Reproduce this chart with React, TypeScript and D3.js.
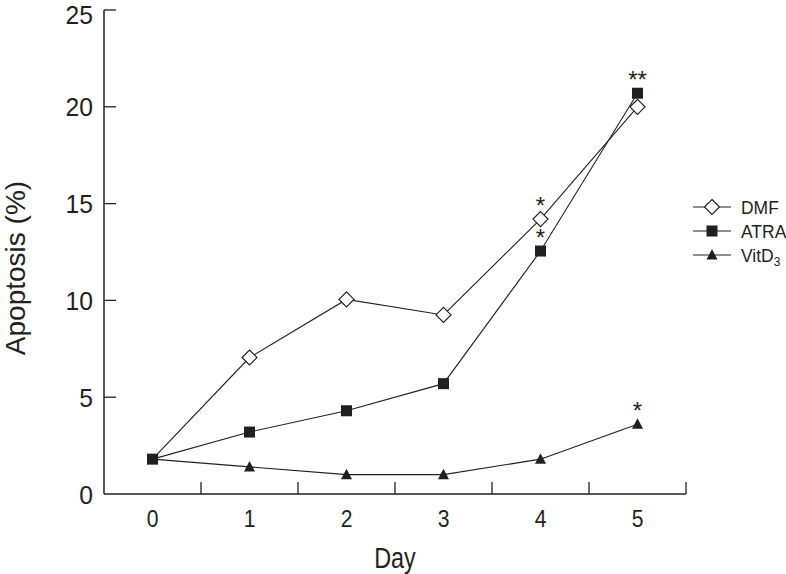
import { useRef, useEffect } from "react";
import * as d3 from "d3";

const days = [0, 1, 2, 3, 4, 5];
const dmf = [1.8, 7.05, 10.05, 9.25, 14.2, 20.0];
const atra = [1.8, 3.2, 4.3, 5.7, 12.55, 20.7];
const vitd3 = [1.8, 1.4, 1.0, 1.0, 1.8, 3.6];
const yTicks = [0, 5, 10, 15, 20, 25];
const stars = [
  { series: "DMF", day: 4, text: "*" },
  { series: "ATRA", day: 4, text: "*" },
  { series: "ATRA", day: 5, text: "**" },
  { series: "VitD3", day: 5, text: "*" },
];

const FONT = "'Liberation Sans', Arial, sans-serif";
const ink = "#231f20";

// condensed-looking text: squeeze horizontally around the anchor point
function ctext(sel: any, x: number, y: number, txt: string, size: number, anchor: string, sx = 0.9) {
  return sel.append("text")
    .attr("transform", `translate(${x},${y}) scale(${sx},1)`)
    .attr("text-anchor", anchor)
    .attr("font-size", size)
    .text(txt);
}

export default function App() {
  const ref = useRef<SVGSVGElement>(null);

  useEffect(() => {
    const svg = d3.select(ref.current);
    svg.selectAll("*").remove();

    const x = d3.scaleLinear().domain([-0.5, 5.5]).range([104, 686]);
    const y = d3.scaleLinear().domain([0, 25]).range([494, 10]);

    const series = [
      { name: "DMF", values: dmf, marker: "diamond" },
      { name: "ATRA", values: atra, marker: "square" },
      { name: "VitD3", values: vitd3, marker: "triangle" },
    ];

    const g = svg.append("g").attr("font-family", FONT).attr("fill", ink);
    g.append("line").attr("x1", x(-0.5)).attr("x2", x(-0.5)).attr("y1", y(25)).attr("y2", y(0))
      .attr("stroke", ink).attr("stroke-width", 1.5);
    g.append("line").attr("x1", x(-0.5)).attr("x2", x(5.5)).attr("y1", y(0)).attr("y2", y(0))
      .attr("stroke", ink).attr("stroke-width", 1.5);

    yTicks.forEach((t) => {
      if (t > 0) {
        g.append("line").attr("x1", x(-0.5)).attr("x2", x(-0.5) + 12).attr("y1", y(t)).attr("y2", y(t))
          .attr("stroke", ink).attr("stroke-width", 1.3);
      }
      // top label nudged down so it stays inside the page
      ctext(g, x(-0.5) - 11, Math.max(y(t) + 9.5, 24), String(t), 26, "end", 0.95);
    });

    d3.range(0, 6).forEach((i) => {
      const tx = x(i + 0.5);
      g.append("line").attr("x1", tx).attr("x2", tx).attr("y1", y(0)).attr("y2", y(0) - 12)
        .attr("stroke", ink).attr("stroke-width", 1.3);
    });
    days.forEach((d) => {
      ctext(g, x(d), 527, String(d), 24, "middle", 0.88);
    });

    ctext(g, 395, 568, "Day", 30, "middle", 0.78);
    g.append("text").attr("transform", `translate(25, 268) rotate(-90)`)
      .attr("text-anchor", "middle").attr("font-size", 28).text("Apoptosis (%)");

    const line = d3.line<number>().x((_, i) => x(days[i])).y((v) => y(v));

    const drawMarker = (sel: any, type: string, cx: number, cy: number) => {
      if (type === "diamond") {
        sel.append("path").attr("d", `M${cx},${cy - 7.5}L${cx + 7.5},${cy}L${cx},${cy + 7.5}L${cx - 7.5},${cy}Z`)
          .attr("fill", "white").attr("stroke", ink).attr("stroke-width", 1.2);
      } else if (type === "square") {
        sel.append("rect").attr("x", cx - 5.5).attr("y", cy - 5.5).attr("width", 11).attr("height", 11)
          .attr("fill", ink);
      } else {
        sel.append("path").attr("d", `M${cx},${cy - 6}L${cx + 5.5},${cy + 4.5}L${cx - 5.5},${cy + 4.5}Z`)
          .attr("fill", ink);
      }
    };

    series.forEach((s) => {
      svg.append("path").datum(s.values).attr("d", line).attr("fill", "none")
        .attr("stroke", ink).attr("stroke-width", 1.1);
    });
    // day 0 is a shared baseline: only the ATRA square shows there
    [series[2], series[0], series[1]].forEach((s) => {
      s.values.forEach((v, i) => {
        if (i === 0 && s.name !== "ATRA") return;
        drawMarker(svg, s.marker, x(days[i]), y(v));
      });
    });

    const sg = svg.append("g").attr("font-family", FONT).attr("fill", ink);
    stars.forEach((st) => {
      const s = series.find((q) => q.name === st.series)!;
      const v = s.values[days.indexOf(st.day)];
      sg.append("text").attr("x", x(st.day)).attr("y", y(v) - 5).attr("text-anchor", "middle")
        .attr("font-size", 24).text(st.text);
    });

    const legend = svg.append("g").attr("font-family", FONT).attr("fill", ink);
    series.forEach((s, i) => {
      const ly = 207 + i * 24;
      legend.append("line").attr("x1", 693).attr("x2", 731).attr("y1", ly).attr("y2", ly)
        .attr("stroke", ink).attr("stroke-width", 1.1);
      drawMarker(legend, s.marker, 712, ly);
      const t = legend.append("text")
        .attr("transform", `translate(741,${ly + 7}) scale(0.92,1)`)
        .attr("font-size", 19);
      if (s.name === "VitD3") {
        t.append("tspan").text("VitD");
        t.append("tspan").attr("font-size", 13).attr("dy", "0.3em").text("3");
      } else {
        t.text(s.name);
      }
    });
  }, []);

  return (
    <svg ref={ref} width={786} height={574}
      style={{ position: "absolute", left: 0, top: 0, background: "white" }} />
  );
}
